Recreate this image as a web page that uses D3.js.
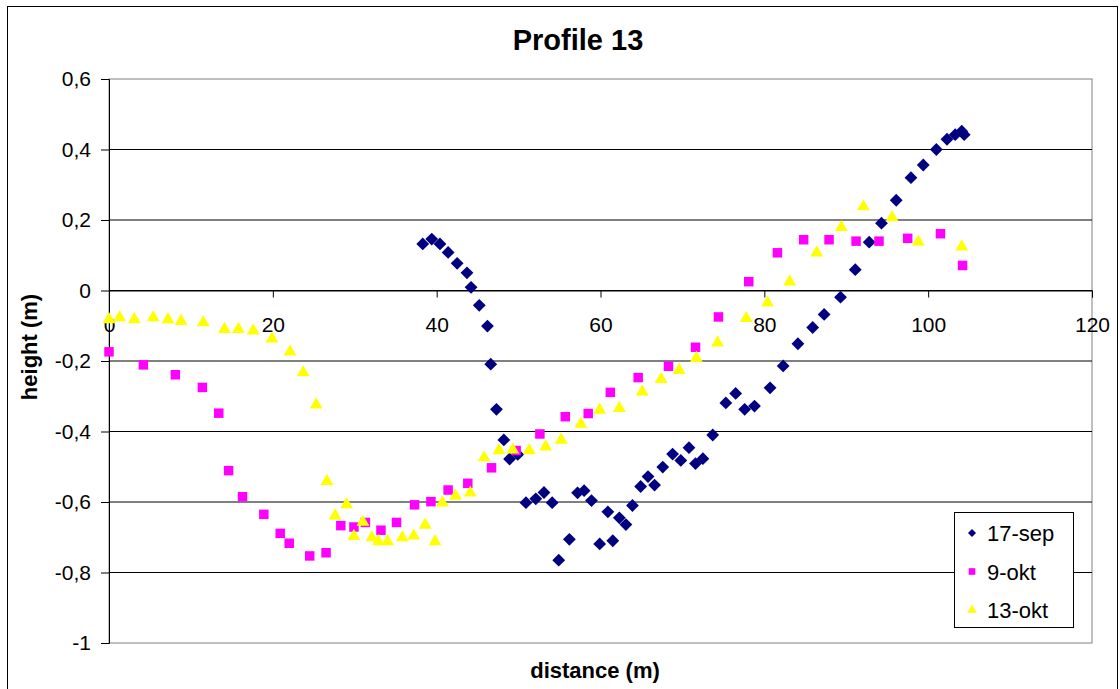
<!DOCTYPE html>
<html>
<head>
<meta charset="utf-8">
<script src="https://cdn.jsdelivr.net/npm/d3@7"></script>
<style>
  html, body { margin: 0; padding: 0; background: #fff; }
  svg { display: block; font-family: "Liberation Sans", Arial, sans-serif; }
</style>
</head>
<body>
<svg id="chart" width="1120" height="689"></svg>
<script>
// Profile 13 survey: distance along profile (m) and height (m)
const sep17Dist = [38.3, 39.4, 40.4, 41.4, 42.5, 43.7, 44.2, 45.2, 46.2, 46.6, 47.3, 48.2, 48.9, 49.9,
  50.9, 52.1, 53.1, 54.1, 54.9, 56.2, 57.2, 58.0, 58.9, 59.9, 60.9, 61.5, 62.3, 63.1, 63.9, 64.9,
  65.8, 66.6, 67.6, 68.8, 69.8, 70.8, 71.6, 72.5, 73.7, 75.3, 76.5, 77.6, 78.8, 80.7, 82.3, 84.1,
  85.9, 87.3, 89.3, 91.1, 92.8, 94.3, 96.1, 97.9, 99.4, 101.0, 102.3, 103.3, 104.1, 104.4];
const sep17Height = [0.132, 0.146, 0.132, 0.108, 0.077, 0.050, 0.009, -0.042, -0.101, -0.209, -0.337,
  -0.424, -0.478, -0.465, -0.602, -0.591, -0.573, -0.602, -0.765, -0.706, -0.574, -0.568, -0.596,
  -0.719, -0.628, -0.710, -0.645, -0.664, -0.610, -0.556, -0.528, -0.552, -0.501, -0.464, -0.482,
  -0.446, -0.491, -0.477, -0.410, -0.319, -0.292, -0.337, -0.328, -0.276, -0.214, -0.151, -0.105,
  -0.068, -0.019, 0.059, 0.137, 0.191, 0.256, 0.320, 0.356, 0.400, 0.429, 0.442, 0.452, 0.442];

const okt9Dist = [0.0, 4.2, 8.1, 11.4, 13.4, 14.6, 16.3, 18.9, 20.9, 22.0, 24.5, 26.5, 28.3, 29.9,
  31.3, 33.2, 35.1, 37.3, 39.3, 41.4, 43.8, 46.7, 49.7, 52.6, 55.7, 58.5, 61.2, 64.6, 68.3, 71.6,
  74.4, 78.1, 81.6, 84.8, 87.9, 91.2, 94.0, 97.5, 101.5, 104.2];
const okt9Height = [-0.174, -0.211, -0.239, -0.275, -0.348, -0.511, -0.585, -0.635, -0.689, -0.717,
  -0.753, -0.744, -0.667, -0.671, -0.658, -0.680, -0.658, -0.608, -0.599, -0.566, -0.547, -0.503,
  -0.454, -0.407, -0.358, -0.349, -0.289, -0.247, -0.215, -0.161, -0.075, 0.025, 0.107, 0.144,
  0.144, 0.140, 0.140, 0.148, 0.161, 0.071];

const okt13Dist = [0.0, 1.3, 3.1, 5.4, 7.2, 8.8, 11.5, 14.1, 15.8, 17.6, 19.9, 22.1, 23.7, 25.3,
  26.6, 27.6, 29.0, 29.9, 31.0, 32.1, 32.9, 34.0, 35.8, 37.2, 38.6, 39.8, 40.7, 42.3, 44.1, 45.8,
  47.6, 49.3, 51.3, 53.3, 55.2, 57.6, 59.9, 62.3, 65.1, 67.4, 69.6, 71.7, 74.3, 77.8, 80.4, 83.1,
  86.4, 89.4, 92.1, 95.6, 98.8, 104.1];
const okt13Height = [-0.082, -0.077, -0.082, -0.077, -0.082, -0.087, -0.091, -0.110, -0.110, -0.114,
  -0.137, -0.174, -0.233, -0.324, -0.541, -0.639, -0.607, -0.697, -0.657, -0.701, -0.712, -0.712,
  -0.701, -0.696, -0.665, -0.712, -0.602, -0.583, -0.574, -0.474, -0.454, -0.452, -0.454, -0.443,
  -0.424, -0.379, -0.339, -0.334, -0.287, -0.252, -0.226, -0.192, -0.148, -0.079, -0.035, 0.025,
  0.107, 0.179, 0.238, 0.207, 0.138, 0.124];

const seriesNames = ["17-sep", "9-okt", "13-okt"];
const xTicks = [0, 20, 40, 60, 80, 100, 120];
const yTicks = [0.6, 0.4, 0.2, 0, -0.2, -0.4, -0.6, -0.8, -1];

// diamonds are squares turned by 45 degrees
const series = [
  { name: seriesNames[0], xs: sep17Dist, ys: sep17Height, color: "#000080", symbol: d3.symbolSquare, rot: 45, size: 82, legendSize: 32 },
  { name: seriesNames[1], xs: okt9Dist, ys: okt9Height, color: "#FF00FF", symbol: d3.symbolSquare, rot: 0, size: 90, legendSize: 44 },
  { name: seriesNames[2], xs: okt13Dist, ys: okt13Height, color: "#FFFF00", symbol: d3.symbolTriangle, rot: 0, size: 72, legendSize: 40 }
];

const svg = d3.select("#chart");
const plot = { left: 109, right: 1092, top: 79, bottom: 643 };

const x = d3.scaleLinear().domain([0, 120]).range([plot.left, plot.right]);
const y = d3.scaleLinear().domain([-1, 0.6]).range([plot.bottom, plot.top]);

// chart frame
svg.append("rect")
  .attr("x", 7.5).attr("y", 6.5).attr("width", 1110).attr("height", 700)
  .attr("fill", "#fff").attr("stroke", "#000").attr("stroke-width", 1);

// plot area
svg.append("rect")
  .attr("x", plot.left).attr("y", plot.top)
  .attr("width", plot.right - plot.left).attr("height", plot.bottom - plot.top)
  .attr("fill", "#fff").attr("stroke", "#808080").attr("stroke-width", 1);

// horizontal gridlines
svg.append("g").selectAll("line")
  .data(yTicks.filter(v => v !== 0.6 && v !== -1))
  .join("line")
  .attr("x1", plot.left).attr("x2", plot.right)
  .attr("y1", d => y(d)).attr("y2", d => y(d))
  .attr("stroke", "#000").attr("stroke-width", 1);

// y axis
const fmt = v => String(Math.round(v * 10) / 10).replace(".", ",");
const yAxis = d3.axisLeft(y).tickValues(yTicks).tickSize(8).tickPadding(10).tickFormat(fmt);
const gy = svg.append("g").attr("transform", `translate(${plot.left},0)`).call(yAxis);
gy.select(".domain").attr("stroke", "#000");
gy.selectAll(".tick line").attr("stroke", "#000");
gy.selectAll(".tick text").attr("font-size", 21).attr("fill", "#000")
  .attr("font-family", "Liberation Sans, Arial, sans-serif");

// x axis crossing at height 0
const xAxis = d3.axisBottom(x).tickValues(xTicks).tickSize(7).tickPadding(20).tickFormat(d3.format("d"));
const gx = svg.append("g").attr("transform", `translate(0,${y(0)})`).call(xAxis);
gx.select(".domain").attr("stroke", "#000");
gx.selectAll(".tick line").attr("stroke", "#000");
gx.selectAll(".tick text").attr("font-size", 21).attr("fill", "#000")
  .attr("font-family", "Liberation Sans, Arial, sans-serif");

// data markers
series.forEach(s => {
  const pts = s.xs.map((d, i) => [d, s.ys[i]]);
  svg.append("g").selectAll("path")
    .data(pts)
    .join("path")
    .attr("transform", d => `translate(${x(d[0])},${y(d[1])}) rotate(${s.rot})`)
    .attr("d", d3.symbol().type(s.symbol).size(s.size))
    .attr("fill", s.color);
});

// titles
svg.append("text")
  .attr("x", 578).attr("y", 50)
  .attr("text-anchor", "middle")
  .attr("font-size", 29).attr("font-weight", "bold")
  .text("Profile 13");

svg.append("text")
  .attr("x", 595).attr("y", 678)
  .attr("text-anchor", "middle")
  .attr("font-size", 22).attr("font-weight", "bold")
  .text("distance (m)");

svg.append("text")
  .attr("transform", "translate(37,347) rotate(-90)")
  .attr("text-anchor", "middle")
  .attr("font-size", 22).attr("font-weight", "bold")
  .text("height (m)");

// legend
const legend = svg.append("g");
legend.append("rect")
  .attr("x", 954.5).attr("y", 512.5).attr("width", 119).attr("height", 115)
  .attr("fill", "#fff").attr("stroke", "#000").attr("stroke-width", 1);
series.forEach((s, i) => {
  const cy = 533 + i * 38.5;
  legend.append("path")
    .attr("transform", `translate(972,${cy}) rotate(${s.rot})`)
    .attr("d", d3.symbol().type(s.symbol).size(s.legendSize))
    .attr("fill", s.color);
  legend.append("text")
    .attr("x", 987).attr("y", cy + 8)
    .attr("font-size", 22)
    .text(s.name);
});
</script>
</body>
</html>
